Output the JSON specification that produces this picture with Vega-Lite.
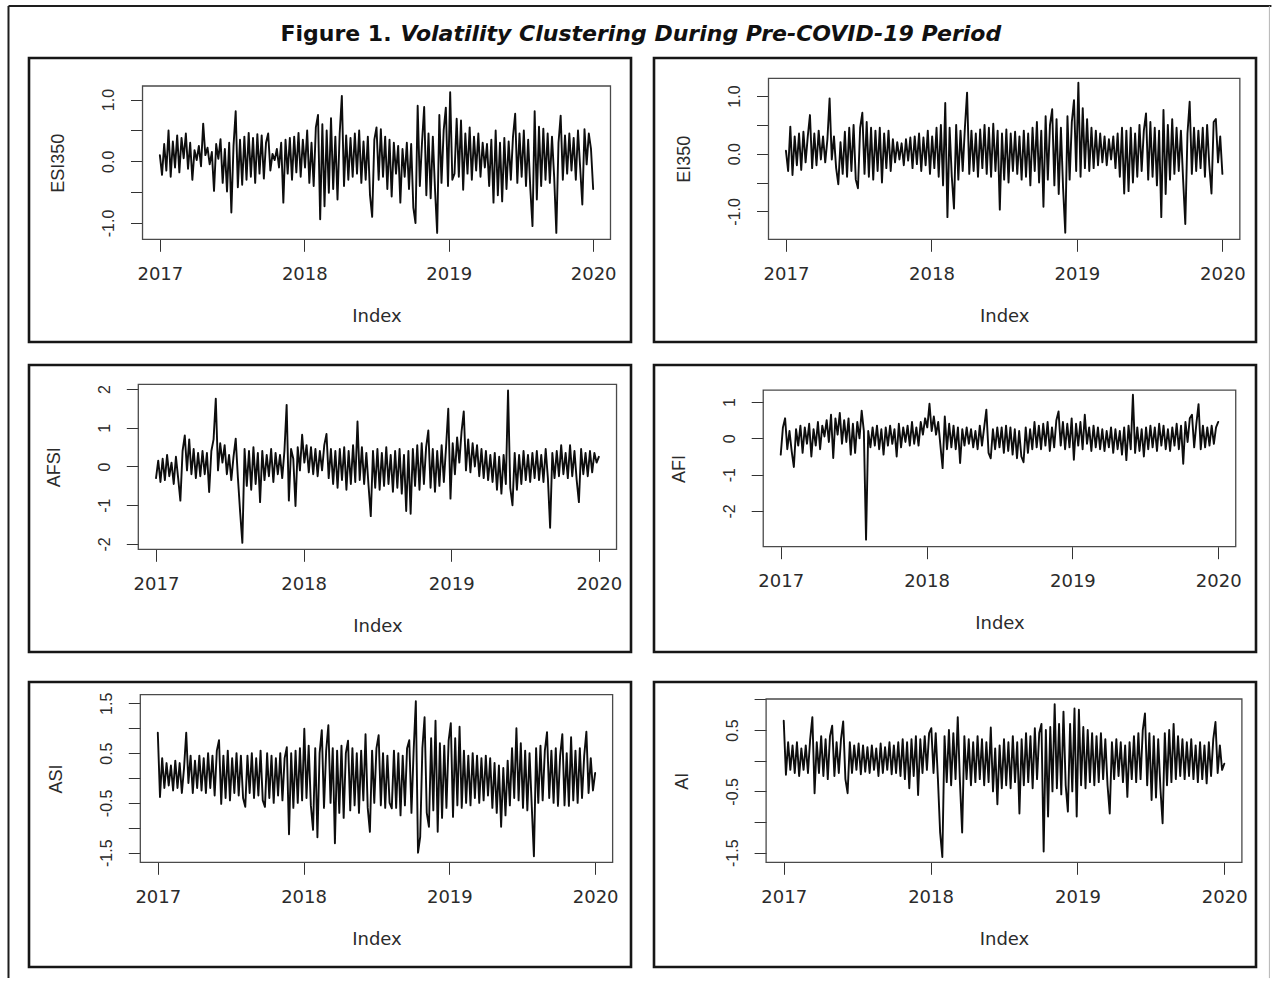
{
"$schema": "https://vega.github.io/schema/vega-lite/v6.json",
"padding": {"left": 7, "top": 4, "right": 0, "bottom": 0},
"bounds": "flush",
"columns": 2,
"spacing": {"row": 30, "column": 23},
"background": "white",
"data": {"values": [
{"Index":2017,"ESI350":0.1,"EI350":0.05,"AFSI":-0.3,"AFI":-0.45,"ASI":0.91,"AI":0.65},
{"Index":2017.015,"ESI350":-0.22,"EI350":-0.3,"AFSI":0.15,"AFI":0.3,"ASI":-0.38,"AI":-0.23},
{"Index":2017.03,"ESI350":0.28,"EI350":0.47,"AFSI":-0.4,"AFI":0.55,"ASI":0.4,"AI":0.3},
{"Index":2017.045,"ESI350":-0.15,"EI350":-0.37,"AFSI":0.2,"AFI":-0.3,"ASI":-0.2,"AI":-0.15},
{"Index":2017.06,"ESI350":0.5,"EI350":0.3,"AFSI":-0.35,"AFI":0.2,"ASI":0.3,"AI":0.25},
{"Index":2017.075,"ESI350":-0.25,"EI350":-0.2,"AFSI":0.3,"AFI":-0.35,"ASI":-0.15,"AI":-0.2},
{"Index":2017.09,"ESI350":0.32,"EI350":0.35,"AFSI":-0.25,"AFI":-0.79,"ASI":0.25,"AI":0.3},
{"Index":2017.105,"ESI350":-0.1,"EI350":-0.28,"AFSI":0.1,"AFI":0.25,"ASI":-0.25,"AI":-0.25},
{"Index":2017.12,"ESI350":0.42,"EI350":0.38,"AFSI":-0.45,"AFI":-0.2,"ASI":0.35,"AI":0.2},
{"Index":2017.135,"ESI350":-0.18,"EI350":-0.15,"AFSI":0.25,"AFI":0.35,"ASI":-0.2,"AI":-0.15},
{"Index":2017.15,"ESI350":0.38,"EI350":0.3,"AFSI":-0.3,"AFI":-0.4,"ASI":0.3,"AI":0.25},
{"Index":2017.165,"ESI350":0.05,"EI350":0.67,"AFSI":-0.88,"AFI":0.3,"ASI":-0.3,"AI":-0.2},
{"Index":2017.18,"ESI350":0.45,"EI350":-0.25,"AFSI":0.4,"AFI":-0.15,"ASI":0.2,"AI":0.35},
{"Index":2017.195,"ESI350":-0.12,"EI350":0.35,"AFSI":0.8,"AFI":0.4,"ASI":0.91,"AI":0.71},
{"Index":2017.21,"ESI350":0.3,"EI350":-0.2,"AFSI":-0.1,"AFI":-0.5,"ASI":-0.1,"AI":-0.53},
{"Index":2017.225,"ESI350":-0.3,"EI350":0.4,"AFSI":0.7,"AFI":0.25,"ASI":0.45,"AI":0.3},
{"Index":2017.24,"ESI350":0.18,"EI350":-0.1,"AFSI":-0.2,"AFI":-0.2,"ASI":-0.3,"AI":-0.2},
{"Index":2017.255,"ESI350":0.02,"EI350":0.3,"AFSI":0.45,"AFI":0.45,"ASI":0.35,"AI":0.4},
{"Index":2017.27,"ESI350":0.25,"EI350":-0.15,"AFSI":-0.3,"AFI":-0.3,"ASI":-0.2,"AI":-0.25},
{"Index":2017.285,"ESI350":-0.08,"EI350":0.25,"AFSI":0.35,"AFI":0.35,"ASI":0.45,"AI":0.35},
{"Index":2017.3,"ESI350":0.61,"EI350":0.96,"AFSI":-0.25,"AFI":0.05,"ASI":-0.25,"AI":-0.3},
{"Index":2017.315,"ESI350":0.1,"EI350":-0.1,"AFSI":0.4,"AFI":0.5,"ASI":0.4,"AI":0.4},
{"Index":2017.33,"ESI350":0.22,"EI350":0.3,"AFSI":-0.2,"AFI":-0.1,"ASI":-0.3,"AI":0.57},
{"Index":2017.345,"ESI350":-0.05,"EI350":-0.25,"AFSI":0.35,"AFI":0.65,"ASI":0.5,"AI":-0.25},
{"Index":2017.36,"ESI350":0.15,"EI350":-0.53,"AFSI":-0.66,"AFI":-0.54,"ASI":-0.2,"AI":0.3},
{"Index":2017.375,"ESI350":-0.48,"EI350":0.2,"AFSI":0.4,"AFI":0.55,"ASI":0.45,"AI":-0.2},
{"Index":2017.39,"ESI350":0.28,"EI350":-0.35,"AFSI":0.7,"AFI":0.1,"ASI":-0.35,"AI":0.35},
{"Index":2017.405,"ESI350":0.04,"EI350":0.38,"AFSI":1.75,"AFI":0.7,"ASI":0.55,"AI":0.64},
{"Index":2017.42,"ESI350":0.36,"EI350":-0.4,"AFSI":-0.1,"AFI":-0.15,"ASI":0.76,"AI":-0.3},
{"Index":2017.435,"ESI350":-0.35,"EI350":0.45,"AFSI":0.6,"AFI":0.5,"ASI":-0.52,"AI":-0.53},
{"Index":2017.45,"ESI350":0.2,"EI350":-0.3,"AFSI":0.1,"AFI":-0.1,"ASI":0.45,"AI":0.3},
{"Index":2017.465,"ESI350":-0.49,"EI350":0.5,"AFSI":0.55,"AFI":0.55,"ASI":-0.4,"AI":-0.2},
{"Index":2017.48,"ESI350":0.3,"EI350":-0.45,"AFSI":-0.2,"AFI":-0.45,"ASI":0.55,"AI":0.25},
{"Index":2017.495,"ESI350":-0.83,"EI350":-0.6,"AFSI":0.3,"AFI":0.4,"ASI":-0.45,"AI":-0.15},
{"Index":2017.51,"ESI350":0.25,"EI350":0.45,"AFSI":-0.35,"AFI":-0.4,"ASI":0.4,"AI":0.28},
{"Index":2017.525,"ESI350":0.81,"EI350":0.71,"AFSI":0.25,"AFI":0.45,"ASI":-0.3,"AI":-0.22},
{"Index":2017.54,"ESI350":-0.42,"EI350":-0.35,"AFSI":0.72,"AFI":0,"ASI":0.5,"AI":0.25},
{"Index":2017.555,"ESI350":0.35,"EI350":0.55,"AFSI":-0.3,"AFI":0.76,"ASI":-0.35,"AI":-0.18},
{"Index":2017.57,"ESI350":-0.38,"EI350":-0.4,"AFSI":-1.18,"AFI":0.2,"ASI":0.45,"AI":0.22},
{"Index":2017.585,"ESI350":0.4,"EI350":0.45,"AFSI":-1.97,"AFI":-2.79,"ASI":-0.4,"AI":-0.2},
{"Index":2017.6,"ESI350":-0.3,"EI350":-0.45,"AFSI":0.45,"AFI":0.2,"ASI":-0.58,"AI":0.25},
{"Index":2017.615,"ESI350":0.46,"EI350":0.4,"AFSI":-0.5,"AFI":-0.25,"ASI":0.45,"AI":-0.15},
{"Index":2017.63,"ESI350":-0.25,"EI350":-0.3,"AFSI":0.4,"AFI":0.3,"ASI":-0.3,"AI":0.2},
{"Index":2017.645,"ESI350":0.38,"EI350":0.45,"AFSI":-0.6,"AFI":-0.2,"ASI":0.5,"AI":-0.25},
{"Index":2017.66,"ESI350":-0.35,"EI350":-0.5,"AFSI":0.5,"AFI":0.35,"ASI":-0.4,"AI":0.28},
{"Index":2017.675,"ESI350":0.44,"EI350":0.35,"AFSI":-0.45,"AFI":-0.3,"ASI":0.4,"AI":-0.2},
{"Index":2017.69,"ESI350":-0.2,"EI350":-0.25,"AFSI":0.35,"AFI":0.25,"ASI":-0.35,"AI":0.22},
{"Index":2017.705,"ESI350":0.42,"EI350":0.4,"AFSI":-0.92,"AFI":-0.45,"ASI":0.55,"AI":-0.15},
{"Index":2017.72,"ESI350":-0.28,"EI350":-0.3,"AFSI":0.4,"AFI":0.3,"ASI":-0.45,"AI":0.3},
{"Index":2017.735,"ESI350":0.3,"EI350":0.25,"AFSI":-0.35,"AFI":-0.2,"ASI":-0.58,"AI":-0.22},
{"Index":2017.75,"ESI350":0.45,"EI350":-0.15,"AFSI":0.3,"AFI":0.35,"ASI":0.5,"AI":0.25},
{"Index":2017.765,"ESI350":-0.15,"EI350":0.2,"AFSI":-0.25,"AFI":-0.15,"ASI":-0.4,"AI":-0.2},
{"Index":2017.78,"ESI350":0.12,"EI350":-0.1,"AFSI":0.45,"AFI":0.25,"ASI":0.45,"AI":0.3},
{"Index":2017.795,"ESI350":0.02,"EI350":0.18,"AFSI":-0.4,"AFI":-0.5,"ASI":-0.5,"AI":-0.25},
{"Index":2017.81,"ESI350":0.2,"EI350":-0.2,"AFSI":0.35,"AFI":0.4,"ASI":0.4,"AI":0.35},
{"Index":2017.825,"ESI350":-0.1,"EI350":0.25,"AFSI":-0.2,"AFI":-0.25,"ASI":-0.35,"AI":-0.3},
{"Index":2017.84,"ESI350":0.3,"EI350":-0.12,"AFSI":0.3,"AFI":0.3,"ASI":0.5,"AI":0.3},
{"Index":2017.855,"ESI350":-0.67,"EI350":0.28,"AFSI":-0.3,"AFI":-0.1,"ASI":-0.45,"AI":-0.45},
{"Index":2017.87,"ESI350":0.35,"EI350":-0.25,"AFSI":0.4,"AFI":0.35,"ASI":0.4,"AI":0.35},
{"Index":2017.885,"ESI350":-0.2,"EI350":0.3,"AFSI":1.59,"AFI":-0.2,"ASI":0.62,"AI":-0.25},
{"Index":2017.9,"ESI350":0.38,"EI350":-0.18,"AFSI":-0.88,"AFI":0.45,"ASI":-1.13,"AI":0.4},
{"Index":2017.915,"ESI350":-0.3,"EI350":0.35,"AFSI":0.45,"AFI":-0.15,"ASI":0.5,"AI":-0.56},
{"Index":2017.93,"ESI350":0.4,"EI350":-0.3,"AFSI":0.2,"AFI":0.3,"ASI":-0.6,"AI":0.35},
{"Index":2017.945,"ESI350":-0.18,"EI350":0.28,"AFSI":-1.02,"AFI":-0.2,"ASI":0.55,"AI":-0.2},
{"Index":2017.96,"ESI350":0.46,"EI350":-0.2,"AFSI":0.5,"AFI":0.45,"ASI":-0.5,"AI":0.4},
{"Index":2017.975,"ESI350":-0.25,"EI350":0.4,"AFSI":-0.1,"AFI":0.1,"ASI":0.6,"AI":-0.15},
{"Index":2017.99,"ESI350":0.35,"EI350":-0.35,"AFSI":0.82,"AFI":0.55,"ASI":-0.45,"AI":0.45},
{"Index":2018.005,"ESI350":-0.1,"EI350":0.3,"AFSI":0.1,"AFI":0.3,"ASI":0.99,"AI":0.53},
{"Index":2018.02,"ESI350":0.5,"EI350":-0.25,"AFSI":0.55,"AFI":0.95,"ASI":-0.4,"AI":-0.2},
{"Index":2018.035,"ESI350":-0.35,"EI350":0.45,"AFSI":-0.15,"AFI":0.2,"ASI":0.65,"AI":0.45},
{"Index":2018.05,"ESI350":0.3,"EI350":-0.4,"AFSI":0.5,"AFI":0.6,"ASI":-0.55,"AI":-0.3},
{"Index":2018.065,"ESI350":-0.4,"EI350":0.5,"AFSI":-0.2,"AFI":0.1,"ASI":-1.04,"AI":-1.17},
{"Index":2018.08,"ESI350":0.55,"EI350":-0.55,"AFSI":0.45,"AFI":0.45,"ASI":0.6,"AI":-1.57},
{"Index":2018.095,"ESI350":0.75,"EI350":0.88,"AFSI":-0.25,"AFI":-0.2,"ASI":-1.19,"AI":0.4},
{"Index":2018.11,"ESI350":-0.94,"EI350":-1.1,"AFSI":0.4,"AFI":-0.82,"ASI":0.5,"AI":-0.35},
{"Index":2018.125,"ESI350":0.6,"EI350":0.45,"AFSI":-0.1,"AFI":0.6,"ASI":0.96,"AI":0.5},
{"Index":2018.14,"ESI350":-0.73,"EI350":-0.4,"AFSI":0.55,"AFI":-0.3,"ASI":-0.6,"AI":-0.4},
{"Index":2018.155,"ESI350":0.5,"EI350":-0.95,"AFSI":0.84,"AFI":0.4,"ASI":0.55,"AI":0.45},
{"Index":2018.17,"ESI350":-0.51,"EI350":0.5,"AFSI":-0.3,"AFI":-0.25,"ASI":1.06,"AI":-0.3},
{"Index":2018.185,"ESI350":0.7,"EI350":-0.45,"AFSI":0.45,"AFI":0.35,"ASI":-0.5,"AI":0.71},
{"Index":2018.2,"ESI350":-0.45,"EI350":0.4,"AFSI":-0.45,"AFI":-0.3,"ASI":0.6,"AI":-0.35},
{"Index":2018.215,"ESI350":0.4,"EI350":-0.3,"AFSI":0.4,"AFI":0.3,"ASI":-1.31,"AI":-1.17},
{"Index":2018.23,"ESI350":-0.62,"EI350":0.45,"AFSI":-0.55,"AFI":-0.68,"ASI":0.55,"AI":0.4},
{"Index":2018.245,"ESI350":0.45,"EI350":1.06,"AFSI":0.45,"AFI":0.25,"ASI":-0.7,"AI":-0.3},
{"Index":2018.26,"ESI350":1.06,"EI350":-0.35,"AFSI":-0.35,"AFI":-0.2,"ASI":0.65,"AI":0.35},
{"Index":2018.275,"ESI350":-0.4,"EI350":0.4,"AFSI":0.5,"AFI":0.3,"ASI":-0.8,"AI":-0.4},
{"Index":2018.29,"ESI350":0.42,"EI350":-0.3,"AFSI":-0.6,"AFI":-0.15,"ASI":0.5,"AI":0.3},
{"Index":2018.305,"ESI350":-0.3,"EI350":0.35,"AFSI":0.4,"AFI":0.25,"ASI":0.75,"AI":-0.35},
{"Index":2018.32,"ESI350":0.38,"EI350":-0.4,"AFSI":-0.45,"AFI":-0.25,"ASI":-0.65,"AI":0.4},
{"Index":2018.335,"ESI350":-0.25,"EI350":0.42,"AFSI":0.55,"AFI":0.2,"ASI":0.6,"AI":-0.3},
{"Index":2018.35,"ESI350":0.45,"EI350":-0.25,"AFSI":-0.4,"AFI":-0.3,"ASI":-0.55,"AI":0.35},
{"Index":2018.365,"ESI350":-0.2,"EI350":0.5,"AFSI":1.16,"AFI":0.35,"ASI":0.5,"AI":-0.4},
{"Index":2018.38,"ESI350":0.5,"EI350":-0.35,"AFSI":-0.35,"AFI":-0.2,"ASI":-0.7,"AI":0.3},
{"Index":2018.395,"ESI350":-0.35,"EI350":0.45,"AFSI":0.5,"AFI":0.3,"ASI":0.55,"AI":-0.35},
{"Index":2018.41,"ESI350":0.32,"EI350":-0.4,"AFSI":-0.45,"AFI":0.79,"ASI":-0.45,"AI":0.54},
{"Index":2018.425,"ESI350":-0.3,"EI350":0.52,"AFSI":0.35,"AFI":-0.4,"ASI":0.88,"AI":-0.5},
{"Index":2018.44,"ESI350":0.4,"EI350":-0.3,"AFSI":-0.5,"AFI":-0.55,"ASI":-0.6,"AI":0.2},
{"Index":2018.455,"ESI350":-0.55,"EI350":0.4,"AFSI":-1.28,"AFI":0.25,"ASI":-1.08,"AI":-0.71},
{"Index":2018.47,"ESI350":-0.9,"EI350":-0.97,"AFSI":0.4,"AFI":-0.3,"ASI":0.55,"AI":0.25},
{"Index":2018.485,"ESI350":0.35,"EI350":0.35,"AFSI":-0.55,"AFI":0.3,"ASI":-0.5,"AI":-0.45},
{"Index":2018.5,"ESI350":0.55,"EI350":-0.45,"AFSI":0.45,"AFI":-0.25,"ASI":0.6,"AI":0.35},
{"Index":2018.515,"ESI350":-0.3,"EI350":0.42,"AFSI":-0.6,"AFI":0.3,"ASI":0.86,"AI":-0.4},
{"Index":2018.53,"ESI350":0.52,"EI350":-0.5,"AFSI":0.35,"AFI":-0.4,"ASI":-0.55,"AI":0.3},
{"Index":2018.545,"ESI350":-0.25,"EI350":0.35,"AFSI":-0.5,"AFI":0.35,"ASI":0.5,"AI":-0.45},
{"Index":2018.56,"ESI350":0.4,"EI350":-0.3,"AFSI":0.5,"AFI":-0.35,"ASI":-0.6,"AI":0.4},
{"Index":2018.575,"ESI350":-0.45,"EI350":0.38,"AFSI":-0.45,"AFI":0.3,"ASI":0.45,"AI":-0.35},
{"Index":2018.59,"ESI350":0.35,"EI350":-0.35,"AFSI":0.3,"AFI":-0.45,"ASI":-0.5,"AI":0.3},
{"Index":2018.605,"ESI350":-0.57,"EI350":0.3,"AFSI":-0.65,"AFI":0.25,"ASI":-0.61,"AI":-0.86},
{"Index":2018.62,"ESI350":0.3,"EI350":-0.45,"AFSI":0.4,"AFI":-0.55,"ASI":0.55,"AI":0.35},
{"Index":2018.635,"ESI350":-0.2,"EI350":0.4,"AFSI":-0.55,"AFI":0.2,"ASI":-0.6,"AI":-0.4},
{"Index":2018.65,"ESI350":0.25,"EI350":-0.4,"AFSI":0.45,"AFI":-0.5,"ASI":0.5,"AI":0.45},
{"Index":2018.665,"ESI350":-0.67,"EI350":0.35,"AFSI":-0.7,"AFI":-0.66,"ASI":-0.75,"AI":-0.35},
{"Index":2018.68,"ESI350":0.2,"EI350":-0.55,"AFSI":0.3,"AFI":0.3,"ASI":0.45,"AI":0.4},
{"Index":2018.695,"ESI350":-0.25,"EI350":0.45,"AFSI":-1.15,"AFI":-0.4,"ASI":-0.55,"AI":-0.45},
{"Index":2018.71,"ESI350":0.3,"EI350":-0.3,"AFSI":0.4,"AFI":0.25,"ASI":0.6,"AI":0.53},
{"Index":2018.725,"ESI350":-0.45,"EI350":0.55,"AFSI":-1.22,"AFI":-0.3,"ASI":0.76,"AI":-0.3},
{"Index":2018.74,"ESI350":0.28,"EI350":-0.5,"AFSI":0.45,"AFI":0.45,"ASI":-0.7,"AI":0.45},
{"Index":2018.755,"ESI350":-0.75,"EI350":0.4,"AFSI":-0.5,"AFI":-0.25,"ASI":0.55,"AI":0.6},
{"Index":2018.77,"ESI350":-1,"EI350":-0.92,"AFSI":0.55,"AFI":0.35,"ASI":1.54,"AI":-1.48},
{"Index":2018.785,"ESI350":0.9,"EI350":0.65,"AFSI":-0.6,"AFI":-0.3,"ASI":-1.5,"AI":0.5},
{"Index":2018.8,"ESI350":-0.4,"EI350":-0.45,"AFSI":0.6,"AFI":0.4,"ASI":-1.18,"AI":-0.91},
{"Index":2018.815,"ESI350":0.3,"EI350":0.5,"AFSI":-0.45,"AFI":-0.2,"ASI":0.6,"AI":0.55},
{"Index":2018.83,"ESI350":0.88,"EI350":0.77,"AFSI":0.5,"AFI":0.45,"ASI":1.22,"AI":-0.5},
{"Index":2018.845,"ESI350":-0.55,"EI350":-0.55,"AFSI":0.93,"AFI":-0.35,"ASI":-0.7,"AI":0.92},
{"Index":2018.86,"ESI350":0.45,"EI350":0.6,"AFSI":-0.55,"AFI":0.3,"ASI":-0.98,"AI":-0.45},
{"Index":2018.875,"ESI350":-0.6,"EI350":-0.7,"AFSI":0.45,"AFI":-0.25,"ASI":0.8,"AI":0.6},
{"Index":2018.89,"ESI350":0.4,"EI350":0.45,"AFSI":-0.65,"AFI":0.5,"ASI":-0.65,"AI":-0.55},
{"Index":2018.905,"ESI350":-0.45,"EI350":-0.6,"AFSI":0.4,"AFI":0.74,"ASI":1.15,"AI":0.8},
{"Index":2018.92,"ESI350":-1.16,"EI350":-1.37,"AFSI":-0.5,"AFI":-0.2,"ASI":-1.08,"AI":-0.4},
{"Index":2018.935,"ESI350":0.75,"EI350":0.65,"AFSI":0.55,"AFI":0.45,"ASI":0.7,"AI":-0.83},
{"Index":2018.95,"ESI350":-0.35,"EI350":-0.45,"AFSI":-0.4,"AFI":-0.3,"ASI":-0.8,"AI":0.6},
{"Index":2018.965,"ESI350":0.5,"EI350":0.55,"AFSI":0.5,"AFI":0.4,"ASI":0.65,"AI":-0.5},
{"Index":2018.98,"ESI350":0.87,"EI350":0.93,"AFSI":1.49,"AFI":-0.25,"ASI":-0.6,"AI":0.85},
{"Index":2018.995,"ESI350":-0.4,"EI350":-0.3,"AFSI":-0.83,"AFI":0.55,"ASI":0.75,"AI":-0.91},
{"Index":2019.01,"ESI350":1.12,"EI350":1.23,"AFSI":0.6,"AFI":-0.59,"ASI":1.1,"AI":0.83},
{"Index":2019.025,"ESI350":-0.3,"EI350":-0.4,"AFSI":-0.2,"AFI":0.4,"ASI":-0.78,"AI":-0.4},
{"Index":2019.04,"ESI350":-0.2,"EI350":0.79,"AFSI":0.75,"AFI":-0.2,"ASI":0.8,"AI":0.55},
{"Index":2019.055,"ESI350":0.69,"EI350":-0.25,"AFSI":0.1,"AFI":0.45,"ASI":-0.55,"AI":-0.45},
{"Index":2019.07,"ESI350":-0.25,"EI350":0.6,"AFSI":0.9,"AFI":-0.3,"ASI":1.03,"AI":0.5},
{"Index":2019.085,"ESI350":0.66,"EI350":-0.3,"AFSI":1.42,"AFI":0.65,"ASI":-0.6,"AI":-0.35},
{"Index":2019.1,"ESI350":-0.46,"EI350":0.45,"AFSI":-0.1,"AFI":-0.15,"ASI":0.55,"AI":0.45},
{"Index":2019.115,"ESI350":0.45,"EI350":-0.25,"AFSI":0.7,"AFI":0.3,"ASI":-0.5,"AI":-0.4},
{"Index":2019.13,"ESI350":-0.2,"EI350":0.4,"AFSI":-0.15,"AFI":-0.35,"ASI":0.45,"AI":0.4},
{"Index":2019.145,"ESI350":0.55,"EI350":-0.2,"AFSI":0.6,"AFI":0.35,"ASI":-0.55,"AI":-0.35},
{"Index":2019.16,"ESI350":-0.3,"EI350":0.35,"AFSI":0,"AFI":-0.25,"ASI":0.5,"AI":0.45},
{"Index":2019.175,"ESI350":0.4,"EI350":-0.15,"AFSI":0.55,"AFI":0.3,"ASI":-0.4,"AI":-0.3},
{"Index":2019.19,"ESI350":-0.15,"EI350":0.3,"AFSI":-0.25,"AFI":-0.3,"ASI":0.45,"AI":0.35},
{"Index":2019.205,"ESI350":0.45,"EI350":-0.2,"AFSI":0.45,"AFI":0.25,"ASI":-0.5,"AI":-0.4},
{"Index":2019.22,"ESI350":-0.25,"EI350":0.25,"AFSI":-0.3,"AFI":-0.35,"ASI":0.4,"AI":-0.86},
{"Index":2019.235,"ESI350":0.3,"EI350":-0.1,"AFSI":0.4,"AFI":0.2,"ASI":-0.45,"AI":0.3},
{"Index":2019.25,"ESI350":-0.1,"EI350":0.3,"AFSI":-0.35,"AFI":-0.25,"ASI":0.45,"AI":-0.3},
{"Index":2019.265,"ESI350":0.28,"EI350":-0.25,"AFSI":0.3,"AFI":0.3,"ASI":-0.35,"AI":0.35},
{"Index":2019.28,"ESI350":-0.4,"EI350":0.35,"AFSI":-0.4,"AFI":-0.4,"ASI":0.4,"AI":-0.25},
{"Index":2019.295,"ESI350":0.35,"EI350":-0.4,"AFSI":0.35,"AFI":0.25,"ASI":-0.6,"AI":0.3},
{"Index":2019.31,"ESI350":-0.67,"EI350":0.45,"AFSI":-0.6,"AFI":-0.3,"ASI":0.3,"AI":-0.35},
{"Index":2019.325,"ESI350":0.5,"EI350":-0.69,"AFSI":0.25,"AFI":0.2,"ASI":-0.7,"AI":0.25},
{"Index":2019.34,"ESI350":-0.55,"EI350":0.4,"AFSI":-0.7,"AFI":-0.45,"ASI":0.25,"AI":-0.59},
{"Index":2019.355,"ESI350":0.3,"EI350":-0.65,"AFSI":0.3,"AFI":0.3,"ASI":-0.98,"AI":0.3},
{"Index":2019.37,"ESI350":-0.65,"EI350":0.45,"AFSI":-0.45,"AFI":-0.6,"ASI":0.2,"AI":-0.3},
{"Index":2019.385,"ESI350":0.38,"EI350":-0.5,"AFSI":1.96,"AFI":0.35,"ASI":-0.75,"AI":0.4},
{"Index":2019.4,"ESI350":-0.45,"EI350":0.35,"AFSI":-0.55,"AFI":-0.3,"ASI":0.35,"AI":-0.35},
{"Index":2019.415,"ESI350":0.32,"EI350":-0.4,"AFSI":-1,"AFI":1.2,"ASI":-0.55,"AI":0.45},
{"Index":2019.43,"ESI350":-0.3,"EI350":0.5,"AFSI":0.35,"AFI":-0.4,"ASI":0.6,"AI":-0.3},
{"Index":2019.445,"ESI350":0.4,"EI350":-0.3,"AFSI":-0.6,"AFI":0.3,"ASI":-0.4,"AI":0.5},
{"Index":2019.46,"ESI350":0.77,"EI350":0.4,"AFSI":0.3,"AFI":-0.35,"ASI":1,"AI":0.77},
{"Index":2019.475,"ESI350":-0.35,"EI350":0.7,"AFSI":-0.45,"AFI":0.25,"ASI":-0.45,"AI":-0.4},
{"Index":2019.49,"ESI350":0.45,"EI350":-0.45,"AFSI":0.4,"AFI":-0.5,"ASI":0.7,"AI":0.45},
{"Index":2019.505,"ESI350":-0.25,"EI350":0.55,"AFSI":-0.35,"AFI":0.3,"ASI":-0.6,"AI":-0.64},
{"Index":2019.52,"ESI350":0.5,"EI350":-0.4,"AFSI":0.3,"AFI":-0.3,"ASI":0.55,"AI":0.4},
{"Index":2019.535,"ESI350":-0.4,"EI350":0.45,"AFSI":-0.4,"AFI":0.35,"ASI":-0.65,"AI":-0.6},
{"Index":2019.55,"ESI350":0.35,"EI350":-0.55,"AFSI":0.35,"AFI":-0.25,"ASI":0.5,"AI":0.35},
{"Index":2019.565,"ESI350":-0.45,"EI350":0.4,"AFSI":-0.3,"AFI":0.3,"ASI":-0.55,"AI":-0.45},
{"Index":2019.58,"ESI350":-1.05,"EI350":-1.1,"AFSI":0.4,"AFI":-0.35,"ASI":-1.57,"AI":-1.02},
{"Index":2019.595,"ESI350":0.81,"EI350":0.76,"AFSI":-0.35,"AFI":0.4,"ASI":0.6,"AI":0.45},
{"Index":2019.61,"ESI350":-0.62,"EI350":-0.7,"AFSI":0.3,"AFI":-0.2,"ASI":-0.5,"AI":-0.4},
{"Index":2019.625,"ESI350":0.56,"EI350":0.5,"AFSI":-0.4,"AFI":0.35,"ASI":0.65,"AI":0.5},
{"Index":2019.64,"ESI350":-0.4,"EI350":-0.45,"AFSI":0.45,"AFI":-0.3,"ASI":-0.45,"AI":-0.35},
{"Index":2019.655,"ESI350":0.53,"EI350":0.6,"AFSI":-0.3,"AFI":0.25,"ASI":0.55,"AI":0.6},
{"Index":2019.67,"ESI350":-0.3,"EI350":-0.35,"AFSI":-1.58,"AFI":-0.35,"ASI":0.92,"AI":-0.3},
{"Index":2019.685,"ESI350":0.45,"EI350":0.45,"AFSI":0.35,"AFI":0.3,"ASI":-0.4,"AI":0.4},
{"Index":2019.7,"ESI350":-0.35,"EI350":-0.3,"AFSI":-0.3,"AFI":-0.2,"ASI":0.55,"AI":-0.25},
{"Index":2019.715,"ESI350":0.4,"EI350":0.4,"AFSI":0.4,"AFI":0.4,"ASI":-0.5,"AI":0.35},
{"Index":2019.73,"ESI350":-0.25,"EI350":-0.45,"AFSI":-0.25,"AFI":-0.3,"ASI":0.6,"AI":-0.3},
{"Index":2019.745,"ESI350":-1.16,"EI350":-1.22,"AFSI":0.55,"AFI":0.35,"ASI":-0.56,"AI":0.3},
{"Index":2019.76,"ESI350":0.3,"EI350":0.35,"AFSI":-0.2,"AFI":-0.7,"ASI":0.45,"AI":-0.25},
{"Index":2019.775,"ESI350":0.74,"EI350":0.9,"AFSI":0.35,"AFI":0.45,"ASI":0.88,"AI":0.35},
{"Index":2019.79,"ESI350":-0.3,"EI350":-0.35,"AFSI":-0.3,"AFI":-0.1,"ASI":-0.55,"AI":-0.3},
{"Index":2019.805,"ESI350":0.42,"EI350":0.45,"AFSI":0.55,"AFI":0.55,"ASI":0.5,"AI":0.25},
{"Index":2019.82,"ESI350":-0.2,"EI350":-0.3,"AFSI":-0.25,"AFI":0.65,"ASI":-0.56,"AI":-0.35},
{"Index":2019.835,"ESI350":0.45,"EI350":0.4,"AFSI":0.4,"AFI":-0.25,"ASI":0.82,"AI":0.3},
{"Index":2019.85,"ESI350":-0.15,"EI350":-0.25,"AFSI":-0.35,"AFI":0.4,"ASI":-0.45,"AI":-0.3},
{"Index":2019.865,"ESI350":0.38,"EI350":0.45,"AFSI":-0.92,"AFI":0.94,"ASI":0.55,"AI":0.25},
{"Index":2019.88,"ESI350":-0.3,"EI350":-0.4,"AFSI":0.45,"AFI":-0.3,"ASI":-0.5,"AI":-0.37},
{"Index":2019.895,"ESI350":0.5,"EI350":0.5,"AFSI":-0.2,"AFI":0.35,"ASI":0.6,"AI":0.3},
{"Index":2019.91,"ESI350":-0.1,"EI350":-0.2,"AFSI":0.35,"AFI":-0.25,"ASI":-0.4,"AI":-0.25},
{"Index":2019.925,"ESI350":-0.7,"EI350":-0.69,"AFSI":-0.25,"AFI":0.3,"ASI":0.45,"AI":0.35},
{"Index":2019.94,"ESI350":0.52,"EI350":0.55,"AFSI":0.4,"AFI":-0.2,"ASI":0.93,"AI":0.63},
{"Index":2019.955,"ESI350":-0.05,"EI350":0.6,"AFSI":-0.15,"AFI":0.35,"ASI":-0.3,"AI":-0.2},
{"Index":2019.97,"ESI350":0.45,"EI350":-0.15,"AFSI":0.35,"AFI":-0.15,"ASI":0.4,"AI":0.25},
{"Index":2019.985,"ESI350":0.2,"EI350":0.3,"AFSI":0.1,"AFI":0.3,"ASI":-0.25,"AI":-0.15},
{"Index":2020,"ESI350":-0.45,"EI350":-0.35,"AFSI":0.25,"AFI":0.45,"ASI":0.1,"AI":-0.05}
]},
"config": {
  "view": {"stroke": "#161616", "strokeWidth": 2.6},
  "axis": {"grid": false, "domain": false, "ticks": true, "tickColor": "#333333", "tickSize": 12, "tickWidth": 1, "labelColor": "#2b2b2b", "titleColor": "#2b2b2b", "titleFontWeight": "normal", "labelOverlap": false, "labelFlush": false, "labelBound": false},
  "axisX": {"labelFont": "DejaVu Sans", "labelFontSize": 18, "labelPadding": 14, "titleFont": "DejaVu Sans", "titleFontSize": 18, "titlePadding": 24},
  "axisY": {"labelFont": "Liberation Sans", "labelFontSize": 16, "labelAngle": 270, "labelAlign": "center", "labelBaseline": "alphabetic", "labelPadding": 17, "titleFont": "Liberation Sans", "titleFontSize": 18, "titlePadding": 33},
  "line": {"color": "#0d0d0d", "strokeWidth": 1.9, "strokeJoin": "round", "strokeCap": "round"}
},
"concat": [
  {
    "width": 602, "height": 277,
    "view": {"stroke": null},
    "layer": [
      {"mark": {"type": "line"},
       "encoding": {
         "x": {"field": "Index", "type": "quantitative", "scale": {"domain": [2016.094, 2020.262], "nice": false, "zero": false},
               "axis": {"title": "Index", "values": [2017, 2018, 2019, 2020], "format": "d", "offset": -95.7, "titleX": 347.5}},
         "y": {"field": "ESI350", "type": "quantitative", "scale": {"domain": [-2.815, 1.674], "nice": false, "zero": false},
               "axis": {"title": "ESI350", "values": [-1, -0.5, 0, 0.5, 1], "labelExpr": "datum.value % 1 == 0 ? (datum.value < 0 ? '-' : '') + format(abs(datum.value), '.1f') : ''", "offset": -113.5, "titleY": 104.7}}}},
      {"data": {"values": [{}]},
       "mark": {"type": "rect", "fill": "transparent", "stroke": "#4a4a4a", "strokeWidth": 1.3},
       "encoding": {"x": {"datum": 2016.88, "type": "quantitative"}, "x2": {"datum": 2020.12},
                    "y": {"datum": -1.264, "type": "quantitative"}, "y2": {"datum": 1.22}}},
      {"data": {"values": [{}]},
       "mark": {"type": "rect", "fill": "transparent", "stroke": "#161616", "strokeWidth": 2.6},
       "encoding": {"x": {"datum": 2016.094, "type": "quantitative"}, "x2": {"datum": 2020.262},
                    "y": {"datum": -2.929, "type": "quantitative"}, "y2": {"datum": 1.674}}},
      {"data": {"values": [{}]},
       "mark": {"type": "rule", "color": "#1e1e1e", "strokeWidth": 2},
       "encoding": {"x": {"datum": 2015.952, "type": "quantitative"}, "y": {"datum": 2.5168, "type": "quantitative"}, "y2": {"datum": -13.237}}},
      {"data": {"values": [{}]},
       "mark": {"type": "rule", "color": "#1e1e1e", "strokeWidth": 2},
       "encoding": {"x": {"datum": 2015.952, "type": "quantitative"}, "x2": {"datum": 2024.696}, "y": {"datum": 2.5168, "type": "quantitative"}}},
      {"data": {"values": [{}]},
       "mark": {"type": "rule", "color": "#b5b5b5", "strokeWidth": 1},
       "encoding": {"x": {"datum": 2024.682, "type": "quantitative"}, "y": {"datum": 2.5168, "type": "quantitative"}, "y2": {"datum": -13.237}}},
      {"data": {"values": [{}]},
       "mark": {"type": "text", "text": "Figure 1.", "font": "DejaVu Sans", "fontSize": 22, "fontWeight": "bold", "align": "right", "baseline": "alphabetic", "color": "#111111"},
       "encoding": {"x": {"datum": 2018.604, "type": "quantitative"}, "y": {"datum": 1.9576, "type": "quantitative"}}},
      {"data": {"values": [{}]},
       "mark": {"type": "text", "text": "Volatility Clustering During Pre-COVID-19 Period", "font": "DejaVu Sans", "fontSize": 22, "fontWeight": "bold", "fontStyle": "italic", "align": "left", "baseline": "alphabetic", "color": "#111111"},
       "encoding": {"x": {"datum": 2018.666, "type": "quantitative"}, "y": {"datum": 1.9576, "type": "quantitative"}}}
    ]
  },
  {
    "width": 602, "height": 277,
    "view": {"stroke": null},
    "layer": [
      {"mark": {"type": "line"},
       "encoding": {
         "x": {"field": "Index", "type": "quantitative", "scale": {"domain": [2016.093, 2020.231], "nice": false, "zero": false},
               "axis": {"title": "Index", "values": [2017, 2018, 2019, 2020], "format": "d", "offset": -95.7, "titleX": 350.2}},
         "y": {"field": "EI350", "type": "quantitative", "scale": {"domain": [-3.145, 1.66], "nice": false, "zero": false},
               "axis": {"title": "EI350", "values": [-1, -0.5, 0, 0.5, 1], "labelExpr": "datum.value % 1 == 0 ? (datum.value < 0 ? '-' : '') + format(abs(datum.value), '.1f') : ''", "offset": -114.5, "titleY": 100.8}}}},
      {"data": {"values": [{}]},
       "mark": {"type": "rect", "fill": "transparent", "stroke": "#4a4a4a", "strokeWidth": 1.3},
       "encoding": {"x": {"datum": 2016.88, "type": "quantitative"}, "x2": {"datum": 2020.12},
                    "y": {"datum": -1.485, "type": "quantitative"}, "y2": {"datum": 1.308}}},
      {"data": {"values": [{}]},
       "mark": {"type": "rect", "fill": "transparent", "stroke": "#161616", "strokeWidth": 2.6},
       "encoding": {"x": {"datum": 2016.093, "type": "quantitative"}, "x2": {"datum": 2020.231},
                    "y": {"datum": -3.266, "type": "quantitative"}, "y2": {"datum": 1.66}}}
    ]
  },
  {
    "width": 602, "height": 287,
    "layer": [
      {"mark": {"type": "line"},
       "encoding": {
         "x": {"field": "Index", "type": "quantitative", "scale": {"domain": [2016.1395, 2020.218], "nice": false, "zero": false},
               "axis": {"title": "Index", "values": [2017, 2018, 2019, 2020], "format": "d", "offset": -102.7, "titleX": 348.5}},
         "y": {"field": "AFSI", "type": "quantitative", "scale": {"domain": [-4.787, 2.619], "nice": false, "zero": false},
               "axis": {"title": "AFSI", "values": [-2, -1, 0, 1, 2], "labelExpr": "'' + datum.value", "offset": -109.3, "titleY": 101.8}}}},
      {"data": {"values": [{}]},
       "mark": {"type": "rect", "fill": "transparent", "stroke": "#4a4a4a", "strokeWidth": 1.3},
       "encoding": {"x": {"datum": 2016.88, "type": "quantitative"}, "x2": {"datum": 2020.12},
                    "y": {"datum": -2.137, "type": "quantitative"}, "y2": {"datum": 2.121}}}
    ]
  },
  {
    "width": 602, "height": 287,
    "layer": [
      {"mark": {"type": "line"},
       "encoding": {
         "x": {"field": "Index", "type": "quantitative", "scale": {"domain": [2016.131, 2020.259], "nice": false, "zero": false},
               "axis": {"title": "Index", "values": [2017, 2018, 2019, 2020], "format": "d", "offset": -105.3, "titleX": 345.5}},
         "y": {"field": "AFI", "type": "quantitative", "scale": {"domain": [-5.882, 2.018], "nice": false, "zero": false},
               "axis": {"title": "AFI", "values": [-2, -1, 0, 1], "labelExpr": "'' + datum.value", "offset": -109.2, "titleY": 103.4}}}},
      {"data": {"values": [{}]},
       "mark": {"type": "rect", "fill": "transparent", "stroke": "#4a4a4a", "strokeWidth": 1.3},
       "encoding": {"x": {"datum": 2016.88, "type": "quantitative"}, "x2": {"datum": 2020.12},
                    "y": {"datum": -2.984, "type": "quantitative"}, "y2": {"datum": 1.329}}}
    ]
  },
  {
    "width": 602, "height": 285,
    "layer": [
      {"mark": {"type": "line"},
       "encoding": {
         "x": {"field": "Index", "type": "quantitative", "scale": {"domain": [2016.1165, 2020.246], "nice": false, "zero": false},
               "axis": {"title": "Index", "values": [2017, 2018, 2019, 2020], "format": "d", "offset": -104.7, "titleX": 347.5}},
         "y": {"field": "ASI", "type": "quantitative", "scale": {"domain": [-3.795, 1.928], "nice": false, "zero": false},
               "axis": {"title": "ASI", "values": [-1.5, -1, -0.5, 0, 0.5, 1, 1.5], "labelExpr": "abs(datum.value) % 1 == 0.5 ? '' + datum.value : ''", "offset": -111.3, "titleY": 96.5}}}},
      {"data": {"values": [{}]},
       "mark": {"type": "rect", "fill": "transparent", "stroke": "#4a4a4a", "strokeWidth": 1.3},
       "encoding": {"x": {"datum": 2016.88, "type": "quantitative"}, "x2": {"datum": 2020.12},
                    "y": {"datum": -1.693, "type": "quantitative"}, "y2": {"datum": 1.673}}}
    ]
  },
  {
    "width": 602, "height": 285,
    "layer": [
      {"mark": {"type": "line"},
       "encoding": {
         "x": {"field": "Index", "type": "quantitative", "scale": {"domain": [2016.1166, 2020.216], "nice": false, "zero": false},
               "axis": {"title": "Index", "values": [2017, 2018, 2019, 2020], "format": "d", "offset": -104.7, "titleX": 350}},
         "y": {"field": "AI", "type": "quantitative", "scale": {"domain": [-3.364, 1.283], "nice": false, "zero": false},
               "axis": {"title": "AI", "values": [-1.5, -1, -0.5, 0, 0.5, 1], "labelExpr": "abs(datum.value) % 1 == 0.5 ? '' + datum.value : ''", "offset": -112.1, "titleY": 98.7}}}},
      {"data": {"values": [{}]},
       "mark": {"type": "rect", "fill": "transparent", "stroke": "#4a4a4a", "strokeWidth": 1.3},
       "encoding": {"x": {"datum": 2016.88, "type": "quantitative"}, "x2": {"datum": 2020.12},
                    "y": {"datum": -1.657, "type": "quantitative"}, "y2": {"datum": 1.006}}}
    ]
  }
]
}
